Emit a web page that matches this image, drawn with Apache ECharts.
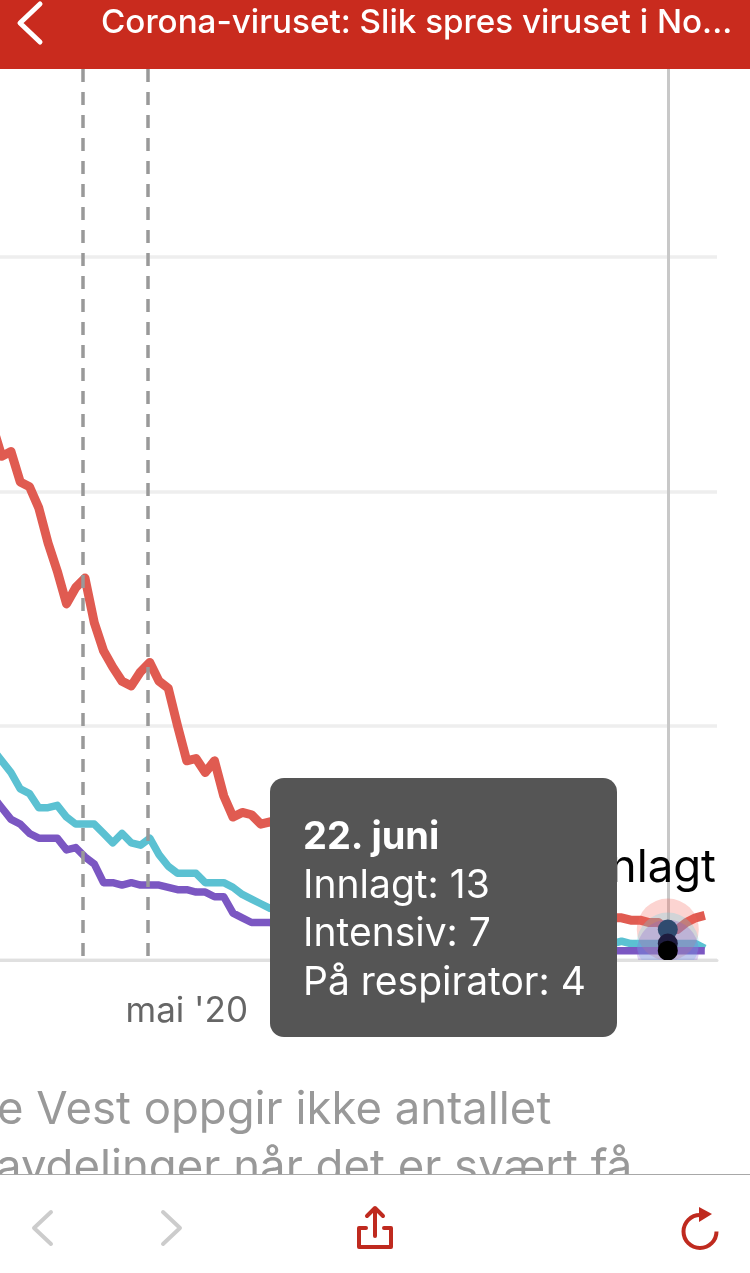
<!DOCTYPE html>
<html>
<head>
<meta charset="utf-8">
<style>
  html, body { margin: 0; padding: 0; background: #fff; overflow: hidden; }
  #chart { width: 750px; height: 1273px; }
</style>
<script src="https://cdn.jsdelivr.net/npm/echarts@6/dist/echarts.min.js"></script>
</head>
<body>
<div id="chart"></div>
<script>
// daily values from 10 april to 26 june 2020
// the stretch hidden behind the tooltip is only a rough guess
var innlagt = [228, 215, 217, 204, 202, 193, 178, 166, 152, 159, 163, 144, 132, 125, 119, 117, 123, 127, 119, 116, 100,
  85, 86, 80, 85, 70, 61, 63, 62, 58, 59, 57, 55, 52, 50, 48, 45, 44, 42, 40, 38, 37, 36, 35, 34, 33, 33, 31, 30, 28, 27, 26,
  25, 24, 23, 22, 22, 21, 20, 20, 19, 19, 18, 18, 18, 19, 18, 18, 18, 17, 17, 16, 16, 13, 13, 16, 18, 19];
var intensiv = [90, 85, 80, 73, 71, 65, 65, 66, 61, 58, 58, 58, 54, 50, 54, 50, 49, 52, 45, 40, 37,
  37, 37, 33, 33, 33, 31, 28, 26, 24, 22, 21, 20, 19, 18, 18, 17, 16, 16, 15, 15, 14, 14, 13, 13, 12, 12, 12, 11, 11, 10, 10,
  10, 9, 9, 9, 8, 8, 8, 8, 8, 7, 7, 7, 7, 7, 7, 7, 8, 7, 7, 7, 7, 7, 7, 7, 7, 5];
var respirator = [70, 65, 60, 58, 54, 52, 52, 52, 47, 48, 44, 41, 33, 33, 32, 33, 32, 32, 32, 31, 30,
  30, 29, 29, 27, 27, 20, 18, 16, 16, 16, 15, 15, 14, 14, 13, 13, 12, 12, 11, 11, 10, 10, 10, 9, 9, 9, 8, 8, 8, 7, 7,
  7, 7, 6, 6, 6, 6, 5, 5, 5, 5, 5, 5, 4, 4, 4, 4, 4, 4, 4, 4, 4, 4, 4, 4, 4, 4];
var seriesNames = ['Innlagt', 'Intensiv', 'På respirator'];
var seriesColors = ['#e05b51', '#5bc1d2', '#7b57c2'];
var dotColors = ['#2b4565', '#1c1a3a', '#000000'];
var xLabels = ["mai '20"];
var tipLabel = '22. juni';
var titleText = 'Corona-viruset: Slik spres viruset i No...';
var noteLines = ['e Vest oppgir ikke antallet', 'avdelinger når det er svært få'];

var dayMs = 86400000;
var days = innlagt.map(function (v, i) { return new Date(2020, 3, 10 + i).getTime(); });
var tipIndex = 73; // 22. juni
var mayFirst = new Date(2020, 4, 1).getTime();
var eventLines = [new Date(2020, 3, 19, 19).getTime(), new Date(2020, 3, 26, 19).getTime()];

function pairs(values) {
  return values.map(function (v, i) { return [days[i], v]; });
}

function lineSeries(name, values, color, width) {
  return {
    name: name,
    type: 'line',
    data: pairs(values),
    symbol: 'none',
    z: 2,
    lineStyle: { color: color, width: width, cap: 'butt', join: 'round' },
    emphasis: { disabled: true }
  };
}

// custom series so the halo gets cut off at the baseline
function circleSeries(value, color, radius, opacity, z) {
  return {
    type: 'custom',
    data: [[days[tipIndex], value]],
    clip: true,
    silent: true,
    z: z,
    renderItem: function (params, api) {
      var p = api.coord([api.value(0), api.value(1)]);
      return {
        type: 'circle',
        shape: { cx: p[0], cy: p[1], r: radius },
        style: { fill: color, opacity: opacity }
      };
    }
  };
}

var allValues = [innlagt, intensiv, respirator];
var series = [
  lineSeries(seriesNames[0], innlagt, seriesColors[0], 9),
  lineSeries(seriesNames[1], intensiv, seriesColors[1], 7.5),
  lineSeries(seriesNames[2], respirator, seriesColors[2], 7.5)
];
// dashed lines for the two reopening dates
series[0].markLine = {
  silent: true,
  symbol: 'none',
  animation: false,
  label: { show: false },
  lineStyle: { color: '#999', width: 3.5, type: [13, 10], dashOffset: 19 },
  data: eventLines.map(function (d) { return { xAxis: d }; })
};
allValues.forEach(function (values, i) {
  series.push(circleSeries(values[tipIndex], seriesColors[i], 31, 0.28, 3));
});
allValues.forEach(function (values, i) {
  series.push(circleSeries(values[tipIndex], dotColors[i], 10, 1, 4));
});

var red = '#c92b1e';
var iconRed = '#bf2a1f';

function iconLine(points, color) {
  return {
    type: 'polyline',
    z: 102,
    shape: { points: points },
    style: { stroke: color, lineWidth: 4, fill: null, lineJoin: 'round', lineCap: 'round' }
  };
}

var graphics = [
  { type: 'text', z: 100, style: { text: noteLines[0], x: -3, y: 1087, fill: '#999', font: '45.5px Inter' } },
  { type: 'text', z: 100, style: { text: noteLines[1], x: -4, y: 1145, fill: '#999', font: '45.5px Inter' } },
  { type: 'text', z: 90, style: { text: 'Innlagt', x: 716, y: 845, align: 'right', fill: '#000', font: '45.5px Inter' } },
  { type: 'rect', z: 101, shape: { x: 0, y: 0, width: 750, height: 69 }, style: { fill: red } },
  { type: 'rect', z: 101, shape: { x: 0, y: 1174, width: 750, height: 99 }, style: { fill: '#fff' } },
  { type: 'rect', z: 102, shape: { x: 0, y: 1174, width: 750, height: 1 }, style: { fill: '#a8a8a8' } },
  { type: 'text', z: 102, style: { text: titleText, x: 101, y: 7, fill: '#fff', font: '500 33.2px Inter' } },
  {
    type: 'polyline', z: 102,
    shape: { points: [[40, 4], [20, 23], [40, 42]] },
    style: { stroke: '#fff', lineWidth: 5, fill: null, lineCap: 'round', lineJoin: 'round' }
  },
  iconLine([[51, 1212], [34, 1228], [51, 1244]], '#ccc'),
  iconLine([[163, 1212], [180, 1228], [163, 1244]], '#ccc'),
  iconLine([[366, 1228], [359, 1228], [359, 1247], [391, 1247], [391, 1228], [384, 1228]], iconRed),
  iconLine([[375, 1236], [375, 1209]], iconRed),
  iconLine([[367, 1216], [375, 1208], [383, 1216]], iconRed),
  {
    type: 'arc', z: 102,
    shape: { cx: 700, cy: 1231.5, r: 16.5, startAngle: 0, endAngle: Math.PI * 1.5, clockwise: true },
    style: { stroke: iconRed, lineWidth: 4, fill: null }
  },
  { type: 'polygon', z: 102, shape: { points: [[699, 1207], [712, 1214], [699, 1222]] }, style: { fill: iconRed } }
];

var chart = echarts.init(document.getElementById('chart'));

chart.setOption({
  animation: false,
  backgroundColor: '#fff',
  grid: { left: 0, right: 33, top: 69, bottom: 313 },
  xAxis: {
    type: 'value',
    min: new Date(2020, 3, 20).getTime() - 9.19 * dayMs,
    max: new Date(2020, 3, 20).getTime() + 68.32 * dayMs,
    axisLine: { show: true, lineStyle: { color: '#e0e0e0', width: 3 } },
    axisTick: { show: false },
    splitLine: { show: false },
    axisLabel: {
      show: true,
      customValues: [mayFirst],
      margin: 34,
      hideOverlap: false,
      color: '#666',
      fontFamily: 'Inter',
      fontSize: 35,
      formatter: function () { return xLabels[0]; }
    }
  },
  yAxis: {
    type: 'value',
    min: 0,
    max: 380.3,
    interval: 100,
    axisLine: { show: false },
    axisTick: { show: false },
    axisLabel: { show: false },
    splitLine: { show: true, showMaxLine: false, lineStyle: { color: '#eeeeee', width: 3.5 } }
  },
  tooltip: {
    show: true,
    trigger: 'axis',
    triggerOn: 'none',
    alwaysShowContent: true,
    transitionDuration: 0,
    position: [270, 778],
    backgroundColor: '#555555',
    borderWidth: 0,
    padding: 0,
    extraCssText: 'border-radius:14px;box-shadow:none;width:347px;height:259px;box-sizing:border-box;padding:33px 0 0 33px;',
    textStyle: { color: '#fff', fontFamily: 'Inter', fontSize: 39 },
    axisPointer: {
      type: 'line',
      snap: true,
      z: 1,
      label: { show: false },
      lineStyle: { color: '#c8c8c8', width: 3, type: 'solid' }
    },
    formatter: function () {
      return '<div style="line-height:48.5px;white-space:nowrap;font-family:Inter;font-size:39px;color:#fff">' +
        '<b style="font-size:38px">' + tipLabel + '</b><br>' +
        seriesNames[0] + ': ' + innlagt[tipIndex] + '<br>' +
        seriesNames[1] + ': ' + intensiv[tipIndex] + '<br>' +
        seriesNames[2] + ': ' + respirator[tipIndex] + '</div>';
    }
  },
  graphic: { elements: graphics },
  series: series
});

chart.dispatchAction({ type: 'showTip', seriesIndex: 0, dataIndex: tipIndex });
</script>
</body>
</html>
